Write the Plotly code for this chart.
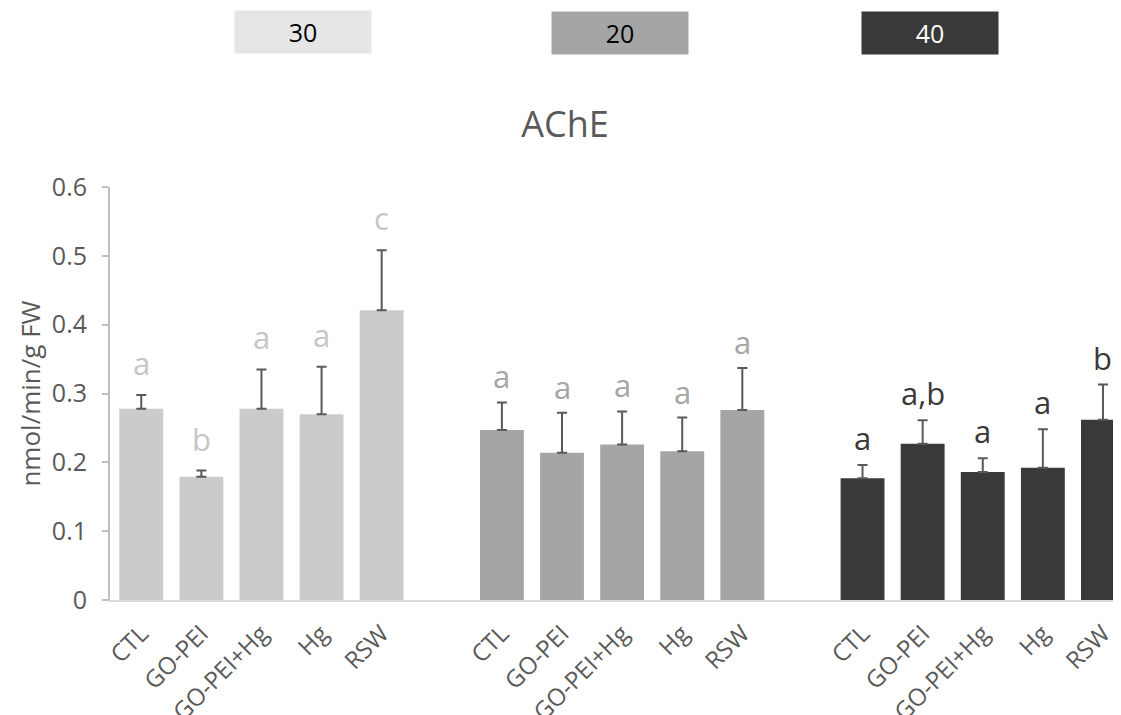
import plotly.graph_objects as go

W, H = 1121, 715
OFF = 8  # browser default body margin
categories = ["CTL", "GO-PEI", "GO-PEI+Hg", "Hg", "RSW"]
groups = ["30", "20", "40"]

vals_30 = [0.278, 0.179, 0.278, 0.270, 0.421]
err_30 = [0.020, 0.009, 0.057, 0.069, 0.087]
let_30 = ["a", "b", "a", "a", "c"]

vals_20 = [0.247, 0.214, 0.226, 0.216, 0.276]
err_20 = [0.040, 0.058, 0.048, 0.049, 0.061]
let_20 = ["a", "a", "a", "a", "a"]

vals_40 = [0.177, 0.227, 0.186, 0.192, 0.262]
err_40 = [0.019, 0.034, 0.020, 0.056, 0.051]
let_40 = ["a", "a,b", "a", "a", "b"]

bar_colors = ["#cbcbcb", "#a5a5a5", "#3a3839"]
letter_colors = ["#c6c6c6", "#a5a5a5", "#3a3839"]
legend_colors = ["#e7e6e6", "#a5a5a5", "#3a3839"]
legend_text_colors = ["#000000", "#000000", "#ffffff"]
letter_shift = [9, 3, 4]

FONT = "Open Sans"
TXT = "#595959"

series = [(vals_30, err_30, let_30), (vals_20, err_20, let_20), (vals_40, err_40, let_40)]

FW, FH = W - OFF, H - OFF
ML, MR, MT, MB = 110 - OFF, 0, 187 - OFF, 115

fig = go.Figure()
tickvals, ticktext = [], []
annotations = []
for g, (vals, errs, lets) in enumerate(series):
    xs = [g * 6 + i for i in range(len(categories))]
    tickvals += xs
    ticktext += categories
    fig.add_trace(go.Bar(
        x=xs, y=vals, width=0.73,
        marker=dict(color=bar_colors[g], line=dict(width=0)),
        error_y=dict(type="data", array=errs, symmetric=False,
                     arrayminus=[0] * len(errs), color="#595959",
                     thickness=2, width=5),
        showlegend=False, name=groups[g],
    ))
    for x, v, e, t in zip(xs, vals, errs, lets):
        annotations.append(dict(
            x=x, y=v + e, xref="x", yref="y", text=t, showarrow=False,
            yanchor="bottom", yshift=letter_shift[g],
            font=dict(family=FONT, size=31, color=letter_colors[g]),
        ))

plot_w = FW - ML - MR
plot_h = FH - MT - MB
box_centers_px = [(303, 32), (620, 33), (930, 33)]
for g, (cx, cy) in enumerate(box_centers_px):
    annotations.append(dict(
        x=(cx - OFF - ML) / plot_w, y=(FH - MB - (cy - OFF)) / plot_h,
        xref="paper", yref="paper", text=groups[g], showarrow=False,
        xanchor="center", yanchor="middle",
        width=134, height=40, bgcolor=legend_colors[g],
        font=dict(family=FONT, size=25, color=legend_text_colors[g]),
    ))

fig.update_layout(
    width=FW, height=FH,
    margin=dict(l=ML, r=MR, t=MT, b=MB, autoexpand=False),
    plot_bgcolor="white", paper_bgcolor="white",
    title=dict(text="AChE", x=(565 - OFF) / FW, y=1 - (124 - OFF) / FH,
               xref="container", yref="container",
               xanchor="center", yanchor="middle",
               font=dict(family=FONT, size=36, color=TXT)),
    annotations=annotations,
    bargap=0.27,
    font=dict(family=FONT, color=TXT),
)
fig.update_xaxes(
    range=[-0.52, 16.3], tickvals=tickvals, ticktext=ticktext, tickangle=-45,
    tickfont=dict(family=FONT, size=24, color=TXT), ticklabelstandoff=8,
    showline=True, linecolor="#d9d9d9", linewidth=2, showgrid=False,
    zeroline=False, ticks="", fixedrange=True,
)
fig.update_yaxes(
    range=[0, 0.6], dtick=0.1, tickformat="~g",
    tickfont=dict(family=FONT, size=25, color=TXT), ticklabelstandoff=10,
    showline=True, linecolor="#bfbfbf", linewidth=2, showgrid=False,
    zeroline=False, ticks="outside", ticklen=6, tickcolor="#bfbfbf", tickwidth=2,
    title=dict(text="nmol/min/g FW", standoff=4,
               font=dict(family=FONT, size=26, color=TXT)),
)

fig.write_html("out.html")
